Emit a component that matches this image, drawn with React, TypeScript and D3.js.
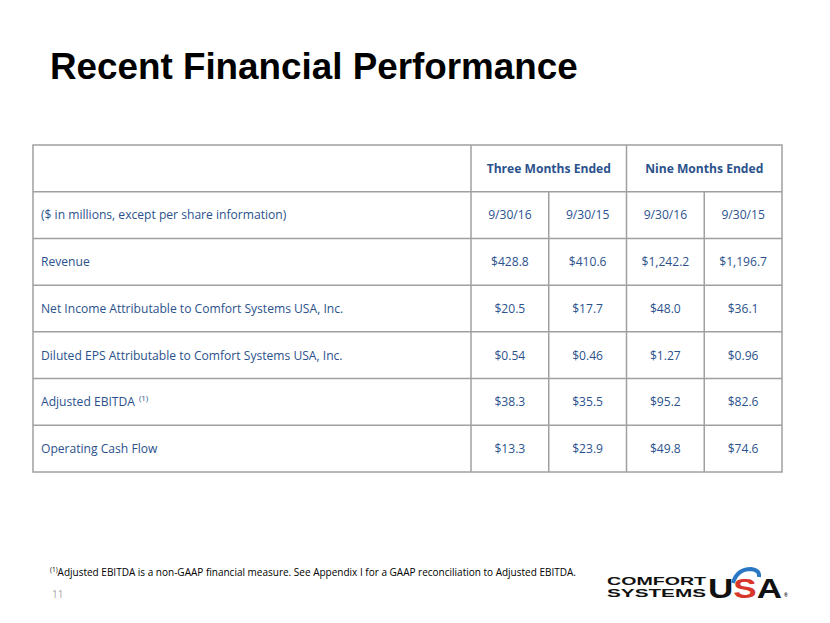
import React from "react";
import * as d3 from "d3";

// table data
const groups = ["Three Months Ended", "Nine Months Ended"];
const periods = ["9/30/16", "9/30/15", "9/30/16", "9/30/15"];
const metrics = [
  "Revenue",
  "Net Income Attributable to Comfort Systems USA, Inc.",
  "Diluted EPS Attributable to Comfort Systems USA, Inc.",
  "Adjusted EBITDA",
  "Operating Cash Flow",
];
const values = [
  ["$428.8", "$410.6", "$1,242.2", "$1,196.7"],
  ["$20.5", "$17.7", "$48.0", "$36.1"],
  ["$0.54", "$0.46", "$1.27", "$0.96"],
  ["$38.3", "$35.5", "$95.2", "$82.6"],
  ["$13.3", "$23.9", "$49.8", "$74.6"],
];
const unitsNote = "($ in millions, except per share information)";

const W = 830;
const H = 623;
const blue = "#2b528c";
const border = "#a0a0a0";
const bodyFont = "'Open Sans', 'Noto Sans', sans-serif";
const arial = "'Liberation Sans', Arial, sans-serif";

export default function App() {
  const rowKeys = ["groups", "periods", ...metrics];
  const y = d3.scaleBand().domain(rowKeys).range([145, 472]);
  const x = d3.scaleBand().domain(d3.range(periods.length).map(String)).range([471, 782]);
  const left = 33;
  const right = 782;
  const top = y.range()[0];
  const bottom = y.range()[1];
  const mid = (k: string) => y(k)! + y.bandwidth() / 2 + 4.3;

  return (
    <svg width={W} height={H} style={{ position: "absolute", left: 0, top: 0, background: "#fff" }}>
      <text x={50} y={79} fontFamily={arial} fontWeight="bold" fontSize={36.8} fill="#000">
        Recent Financial Performance
      </text>

      {/* grid */}
      <g stroke={border} strokeWidth={1.5} fill="none">
        <rect x={left} y={top} width={right - left} height={bottom - top} />
        {rowKeys.slice(1).map((k) => (
          <line key={k} x1={left} x2={right} y1={y(k)} y2={y(k)} />
        ))}
        <line x1={x("0")} x2={x("0")} y1={top} y2={bottom} />
        <line x1={x("2")} x2={x("2")} y1={top} y2={bottom} />
        <line x1={x("1")} x2={x("1")} y1={y("periods")} y2={bottom} />
        <line x1={x("3")} x2={x("3")} y1={y("periods")} y2={bottom} />
      </g>

      <g fontFamily={bodyFont} fontSize={12.1} fill={blue}>
        {groups.map((g, i) => (
          <text
            key={g}
            x={(x(String(i * 2))! + x(String(i * 2 + 1))! + x.bandwidth()) / 2}
            y={mid("groups")}
            textAnchor="middle"
            fontWeight="bold"
          >
            {g}
          </text>
        ))}
        <text x={41} y={mid("periods")}>{unitsNote}</text>
        {periods.map((p, i) => (
          <text key={i} x={x(String(i))! + x.bandwidth() / 2} y={mid("periods")} textAnchor="middle">
            {p}
          </text>
        ))}
        {metrics.map((m, r) => (
          <g key={m}>
            <text x={41} y={mid(m)}>
              {m}
              {m === "Adjusted EBITDA" && (
                <tspan fontSize={8} dy={-5} dx={4}>(1)</tspan>
              )}
            </text>
            {values[r].map((v, c) => (
              <text key={c} x={x(String(c))! + x.bandwidth() / 2} y={mid(m)} textAnchor="middle">
                {v}
              </text>
            ))}
          </g>
        ))}
      </g>

      {/* footnote */}
      <text x={50} y={576} fontFamily={bodyFont} fontSize={10} fill="#000">
        <tspan fontSize={6.5} dy={-4}>(1)</tspan>
        <tspan dy={4}>Adjusted EBITDA  is a non-GAAP financial measure.  See Appendix I for a GAAP reconciliation to Adjusted EBITDA.</tspan>
      </text>
      <text x={52} y={598} fontFamily={bodyFont} fontSize={10} fill="#a6a6a6">11</text>

      {/* logo */}
      <g fontFamily={arial} fontWeight="bold" fill="#111">
        <text x={607} y={584.5} fontSize={10.5} textLength={99} lengthAdjust="spacingAndGlyphs">COMFORT</text>
        <text x={607} y={596.8} fontSize={10.5} textLength={99} lengthAdjust="spacingAndGlyphs">SYSTEMS</text>
        <text x={708} y={597.5} fontSize={28} textLength={74} lengthAdjust="spacingAndGlyphs">
          U<tspan fill="#d8362b">S</tspan>A
        </text>
        <path d="M733 583 Q737 569 751 569 Q760 570 759 577" fill="none" stroke="#2a78c4" strokeWidth={4} />
        <text x={784} y={597} fontSize={5}>®</text>
      </g>
    </svg>
  );
}
